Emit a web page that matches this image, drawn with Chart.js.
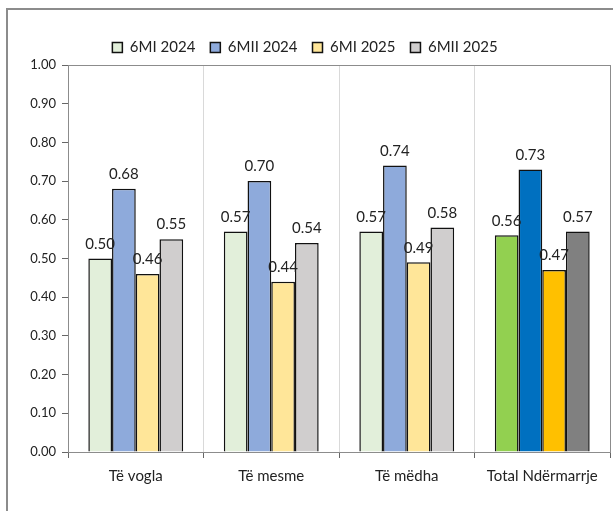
<!DOCTYPE html>
<html>
<head>
<meta charset="utf-8">
<script src="https://cdn.jsdelivr.net/npm/chart.js@4"></script>
<style>
  html, body { margin: 0; padding: 0; background: #fff; overflow: hidden; }
  #wrap { position: relative; width: 613px; height: 511px; }
  #frame { position: absolute; left: 6px; top: 8px; width: 640px; height: 540px; border: 2px solid #8c8c8c; box-sizing: border-box; }
  #chart { position: absolute; left: 0; top: 0; }
</style>
</head>
<body>
<div id="wrap">
  <div id="frame"></div>
  <canvas id="chart" width="613" height="511"></canvas>
</div>
<script>
// categories and series
const categories = ['Të vogla', 'Të mesme', 'Të mëdha', 'Total Ndërmarrje'];
const seriesNames = ['6MI 2024', '6MII 2024', '6MI 2025', '6MII 2025'];
const mi2024  = [0.50, 0.57, 0.57, 0.56];
const mii2024 = [0.68, 0.70, 0.74, 0.73];
const mi2025  = [0.46, 0.44, 0.49, 0.47];
const mii2025 = [0.55, 0.54, 0.58, 0.57];
const yTicks = [0, 0.1, 0.2, 0.3, 0.4, 0.5, 0.6, 0.7, 0.8, 0.9, 1.0];

// light colours for the groups, strong ones for the total
const light  = ['#e2efda', '#8eaadb', '#ffe699', '#d0cece'];
const strong = ['#92d050', '#0070c0', '#ffc000', '#808080'];

const FONT = 'Lato, "Liberation Sans", sans-serif';

const values = [mi2024, mii2024, mi2025, mii2025];
const datasets = values.map((vals, i) => ({
    label: seriesNames[i],
    data: vals,
    backgroundColor: c => (c.dataIndex === categories.length - 1 ? strong[i] : light[i]),
    borderColor: '#111',
    borderWidth: 1.5,
    categoryPercentage: 0.7,
    barPercentage: 1.0
}));

// value labels above bars
const barLabels = {
    id: 'barLabels',
    afterDatasetsDraw(chart) {
        const ctx = chart.ctx;
        ctx.save();
        ctx.font = '15px ' + FONT;
        ctx.fillStyle = '#222';
        ctx.textAlign = 'center';
        ctx.textBaseline = 'bottom';
        chart.data.datasets.forEach((ds, i) => {
            chart.getDatasetMeta(i).data.forEach((bar, j) => {
                ctx.fillText(ds.data[j].toFixed(2), bar.x, bar.y - 7);
            });
        });
        ctx.restore();
    }
};

// gray box round the plot area
const plotBox = {
    id: 'plotBox',
    afterDraw(chart) {
        const a = chart.chartArea;
        const ctx = chart.ctx;
        ctx.save();
        ctx.strokeStyle = '#8c8c8c';
        ctx.lineWidth = 1;
        ctx.strokeRect(Math.round(a.left) + 0.5, Math.round(a.top) + 0.5,
            Math.round(a.right - a.left), Math.round(a.bottom - a.top));
        ctx.restore();
    }
};

new Chart(document.getElementById('chart'), {
    type: 'bar',
    data: { labels: categories, datasets },
    plugins: [barLabels, plotBox],
    options: {
        responsive: false,
        animation: false,
        layout: { padding: { top: 25, right: 3, bottom: 0, left: 0 } },
        plugins: {
            legend: {
                position: 'top',
                labels: {
                    boxWidth: 10,
                    boxHeight: 10,
                    padding: 15,
                    color: '#222',
                    font: { family: FONT, size: 15 }
                }
            },
            tooltip: { enabled: false }
        },
        scales: {
            x: {
                grid: {
                    offset: true,
                    color: '#d9d9d9',
                    tickColor: '#666',
                    tickLength: 6
                },
                border: { color: '#444' },
                ticks: { color: '#222', padding: 9, font: { family: FONT, size: 15 } },
                afterFit: s => { s.height = 59; }
            },
            y: {
                min: 0,
                max: 1,
                afterBuildTicks: s => { s.ticks = yTicks.map(v => ({ value: v })); },
                grid: { drawOnChartArea: false, tickLength: 6, tickColor: '#666' },
                border: { color: '#666' },
                ticks: {
                    color: '#222',
                    padding: 6,
                    font: { family: FONT, size: 13 },
                    callback: v => Number(v).toFixed(2)
                },
                afterFit: s => { s.width = 68; }
            }
        }
    }
});
</script>
</body>
</html>
